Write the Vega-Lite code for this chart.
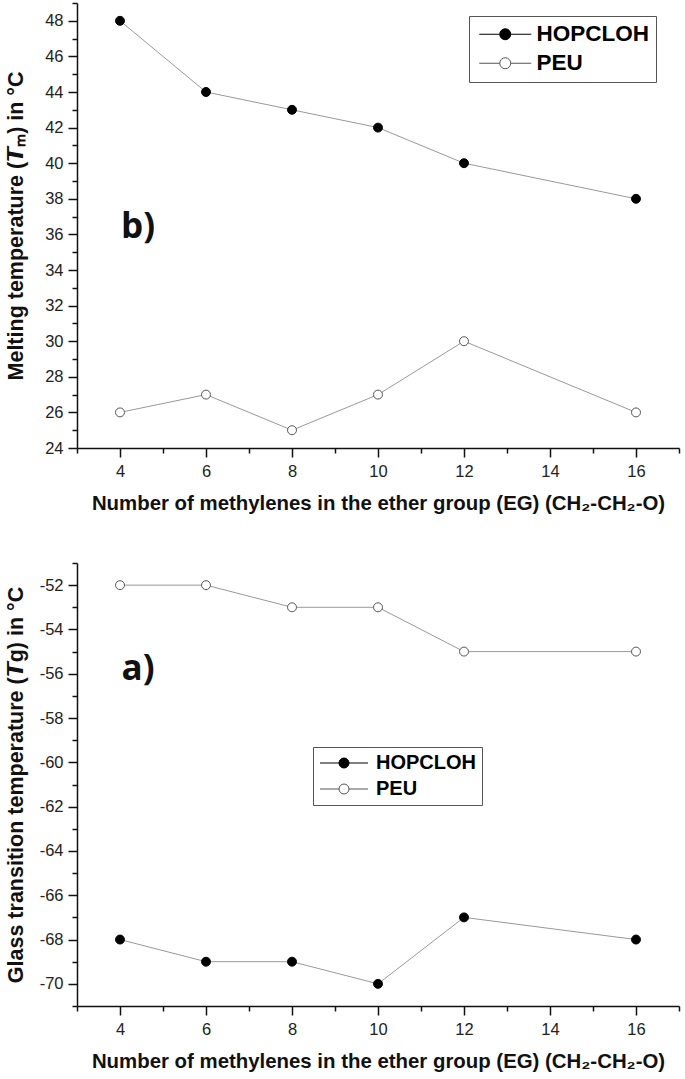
{
  "$schema": "https://vega.github.io/schema/vega-lite/v6.json",
  "padding": {"left": 4, "top": 2, "right": 3, "bottom": 5},
  "background": "white",
  "spacing": 48,
  "resolve": {"scale": {"fill": "independent", "stroke": "independent"}, "legend": {"fill": "independent", "stroke": "independent"}},
  "config": {
    "view": {"stroke": null},
    "font": "Liberation Sans",
    "point": {"opacity": 1},
    "axis": {
      "grid": false,
      "domainColor": "#111",
      "domainWidth": 1.5,
      "tickColor": "#111",
      "tickWidth": 1.5,
      "labelOverlap": false,
      "labelFont": "Liberation Sans",
      "labelColor": "#222",
      "titleFont": "Liberation Sans",
      "titleFontSize": 20.4,
      "titleFontWeight": "bold",
      "titleColor": "#111"
    }
  },
  "vconcat": [
    {
      "width": 602,
      "height": 445,
      "data": {"values": [
        {"series": "HOPCLOH", "x": 4, "y": 48},
        {"series": "HOPCLOH", "x": 6, "y": 44},
        {"series": "HOPCLOH", "x": 8, "y": 43},
        {"series": "HOPCLOH", "x": 10, "y": 42},
        {"series": "HOPCLOH", "x": 12, "y": 40},
        {"series": "HOPCLOH", "x": 16, "y": 38},
        {"series": "PEU", "x": 4, "y": 26},
        {"series": "PEU", "x": 6, "y": 27},
        {"series": "PEU", "x": 8, "y": 25},
        {"series": "PEU", "x": 10, "y": 27},
        {"series": "PEU", "x": 12, "y": 30},
        {"series": "PEU", "x": 16, "y": 26}
      ]},
      "layer": [
        {
          "mark": {"type": "line", "color": "#999", "strokeWidth": 1},
          "encoding": {
            "x": {"field": "x", "type": "quantitative",
              "scale": {"domain": [3, 17], "nice": false, "zero": false},
              "axis": {"values": [3,4,5,6,7,8,9,10,11,12,13,14,15,16,17], "tickCount": 200, "format": "d",
                "labelExpr": "datum.value % 2 === 0 ? '' + datum.value : ''",
                "labelFontSize": {"condition": {"test": "datum.value % 2 !== 0", "value": 0}, "value": 16.5},
                "labelOverlap": false, "labelFlush": false,
                "tickSize": {"condition": {"test": "datum.value % 2 !== 0", "value": 5}, "value": 9},
                "labelPadding": 6, "titlePadding": 14,
                "title": "Number of methylenes in the ether group (EG) (CH₂-CH₂-O)"}},
            "y": {"field": "y", "type": "quantitative",
              "scale": {"domain": [24, 49], "nice": false, "zero": false},
              "axis": {"values": [24,25,26,27,28,29,30,31,32,33,34,35,36,37,38,39,40,41,42,43,44,45,46,47,48,49], "tickCount": 200, "format": "d",
                "labelExpr": "datum.value % 2 === 0 ? '' + datum.value : ''",
                "labelFontSize": {"condition": {"test": "datum.value % 2 !== 0", "value": 0}, "value": 16.5},
                "labelOverlap": false, "labelFlush": false,
                "tickSize": {"condition": {"test": "datum.value % 2 !== 0", "value": 5}, "value": 9},
                "labelPadding": 5, "titleX": -50, "titleFontSize": 21.5,
                "title": "Melting temperature (𝙏ₘ) in °C"}},
            "detail": {"field": "series"}
          }
        },
        {
          "mark": {"type": "point", "filled": true, "size": 0, "opacity": 1, "stroke": "#8a8a8a", "strokeWidth": 1},
          "encoding": {
            "x": {"field": "x", "type": "quantitative"},
            "y": {"field": "y", "type": "quantitative"},
            "fill": {"field": "series", "type": "nominal",
              "scale": {"domain": ["HOPCLOH", "PEU"], "range": ["#000000", "#ffffff"]},
              "legend": {"orient": "none", "legendX": 392, "legendY": 13, "title": null,
                "strokeColor": "#555", "padding": 7, "fillColor": "white",
                "symbolType": "M-5.2,0L-1.1,0M1.1,0L5.2,0M-1.1,0A1.1,1.1,0,1,1,1.1,0A1.1,1.1,0,1,1,-1.1,0Z",
                "symbolSize": 100, "symbolOffset": 18, "symbolStrokeWidth": 1,
                "labelOffset": 20, "labelFontSize": 22.5, "labelFontWeight": "bold", "labelColor": "#000",
                "labelFont": "Liberation Sans", "rowPadding": 6}}
          }
        },
        {
          "mark": {"type": "point", "filled": true, "size": 80, "opacity": 1, "strokeWidth": 1},
          "encoding": {
            "x": {"field": "x", "type": "quantitative"},
            "y": {"field": "y", "type": "quantitative"},
            "fill": {"field": "series", "type": "nominal", "legend": null},
            "stroke": {"field": "series", "type": "nominal",
              "scale": {"domain": ["HOPCLOH", "PEU"], "range": ["#000000", "#555555"]}, "legend": null}
          }
        },
        {
          "data": {"values": [{"x": 4.42, "y": 36.4, "label": "b)"}]},
          "mark": {"type": "text", "font": "Open Sans", "fontWeight": "bold", "fontSize": 35, "color": "#111"},
          "encoding": {
            "x": {"field": "x", "type": "quantitative"},
            "y": {"field": "y", "type": "quantitative"},
            "text": {"field": "label"}
          }
        }
      ]
    },
    {
      "width": 602,
      "height": 443,
      "data": {"values": [
        {"series": "HOPCLOH", "x": 4, "y": -68},
        {"series": "HOPCLOH", "x": 6, "y": -69},
        {"series": "HOPCLOH", "x": 8, "y": -69},
        {"series": "HOPCLOH", "x": 10, "y": -70},
        {"series": "HOPCLOH", "x": 12, "y": -67},
        {"series": "HOPCLOH", "x": 16, "y": -68},
        {"series": "PEU", "x": 4, "y": -52},
        {"series": "PEU", "x": 6, "y": -52},
        {"series": "PEU", "x": 8, "y": -53},
        {"series": "PEU", "x": 10, "y": -53},
        {"series": "PEU", "x": 12, "y": -55},
        {"series": "PEU", "x": 16, "y": -55}
      ]},
      "layer": [
        {
          "mark": {"type": "line", "color": "#999", "strokeWidth": 1},
          "encoding": {
            "x": {"field": "x", "type": "quantitative",
              "scale": {"domain": [3, 17], "nice": false, "zero": false},
              "axis": {"values": [3,4,5,6,7,8,9,10,11,12,13,14,15,16,17], "tickCount": 200, "format": "d",
                "labelExpr": "datum.value % 2 === 0 ? '' + datum.value : ''",
                "labelFontSize": {"condition": {"test": "datum.value % 2 !== 0", "value": 0}, "value": 16.5},
                "labelOverlap": false, "labelFlush": false,
                "tickSize": {"condition": {"test": "datum.value % 2 !== 0", "value": 5}, "value": 9},
                "labelPadding": 6, "titlePadding": 14,
                "title": "Number of methylenes in the ether group (EG) (CH₂-CH₂-O)"}},
            "y": {"field": "y", "type": "quantitative",
              "scale": {"domain": [-71, -51], "nice": false, "zero": false},
              "axis": {"values": [-71,-70,-69,-68,-67,-66,-65,-64,-63,-62,-61,-60,-59,-58,-57,-56,-55,-54,-53,-52,-51], "tickCount": 200, "format": "d",
                "labelExpr": "datum.value % 2 === 0 ? '' + datum.value : ''",
                "labelFontSize": {"condition": {"test": "datum.value % 2 !== 0", "value": 0}, "value": 16.5},
                "labelOverlap": false, "labelFlush": false,
                "tickSize": {"condition": {"test": "datum.value % 2 !== 0", "value": 5}, "value": 9},
                "labelPadding": 5, "titleX": -50, "titleFontSize": 21.5,
                "title": "Glass transition temperature (𝙏g) in °C"}},
            "detail": {"field": "series"}
          }
        },
        {
          "mark": {"type": "point", "filled": true, "size": 0, "opacity": 1, "stroke": "#8a8a8a", "strokeWidth": 1},
          "encoding": {
            "x": {"field": "x", "type": "quantitative"},
            "y": {"field": "y", "type": "quantitative"},
            "fill": {"field": "series", "type": "nominal",
              "scale": {"domain": ["HOPCLOH", "PEU"], "range": ["#000000", "#ffffff"]},
              "legend": {"orient": "none", "legendX": 236, "legendY": 184, "title": null,
                "strokeColor": "#555", "padding": 6, "fillColor": "white",
                "symbolType": "M-4.8,0L-1,0M1,0L4.8,0M-1,0A1,1,0,1,1,1,0A1,1,0,1,1,-1,0Z",
                "symbolSize": 100, "symbolOffset": 15, "symbolStrokeWidth": 1,
                "labelOffset": 22, "labelFontSize": 20, "labelFontWeight": "bold", "labelColor": "#000",
                "labelFont": "Liberation Sans", "rowPadding": 6}}
          }
        },
        {
          "mark": {"type": "point", "filled": true, "size": 80, "opacity": 1, "strokeWidth": 1},
          "encoding": {
            "x": {"field": "x", "type": "quantitative"},
            "y": {"field": "y", "type": "quantitative"},
            "fill": {"field": "series", "type": "nominal", "legend": null},
            "stroke": {"field": "series", "type": "nominal",
              "scale": {"domain": ["HOPCLOH", "PEU"], "range": ["#000000", "#555555"]}, "legend": null}
          }
        },
        {
          "data": {"values": [{"x": 4.42, "y": -55.8, "label": "a)"}]},
          "mark": {"type": "text", "font": "Open Sans", "fontWeight": "bold", "fontSize": 35, "color": "#111"},
          "encoding": {
            "x": {"field": "x", "type": "quantitative"},
            "y": {"field": "y", "type": "quantitative"},
            "text": {"field": "label"}
          }
        }
      ]
    }
  ]
}
